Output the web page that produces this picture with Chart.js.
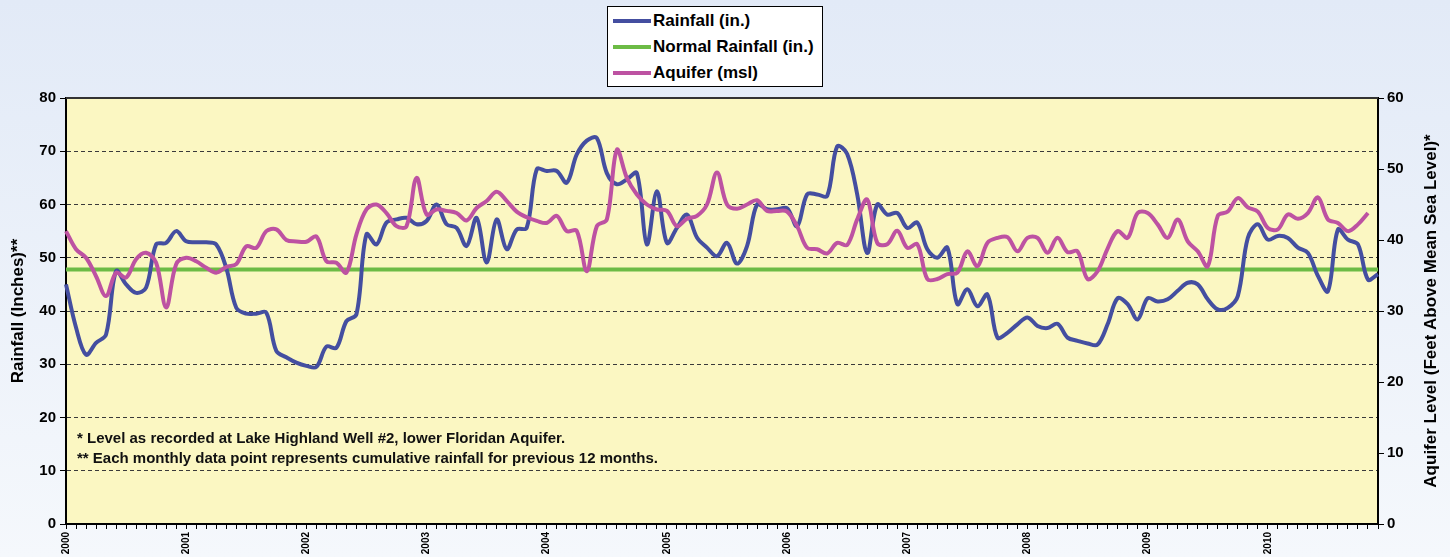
<!DOCTYPE html>
<html>
<head>
<meta charset="utf-8">
<script src="https://cdn.jsdelivr.net/npm/chart.js@4.4.1/dist/chart.umd.min.js"></script>
<style>
    html, body {
        margin: 0;
        padding: 0;
    }

    body {
        width: 1450px;
        height: 557px;
        position: relative;
        overflow: hidden;
        background: linear-gradient(#e2eaf7, #f5f8fc);
        font-family: "Liberation Sans", Arial, sans-serif;
    }

    #wrap {
        position: absolute;
        left: 0;
        top: 0;
        width: 1450px;
        height: 557px;
    }

    #legend {
        position: absolute;
        left: 607px;
        top: 6px;
        width: 214px;
        height: 78px;
        padding-top: 1px;
        background: #ffffff;
        border: 1px solid #000000;
    }

    .legend-row {
        height: 26px;
        display: flex;
        align-items: center;
    }

    .legend-line {
        width: 38px;
        height: 4px;
        margin-left: 5px;
        margin-right: 2px;
    }

    .legend-text {
        font-weight: bold;
        font-size: 17px;
        color: #000000;
        white-space: nowrap;
    }
</style>
</head>
<body>
<div id="wrap">
    <canvas id="rainChart" width="1450" height="557"></canvas>
</div>
<div id="legend"></div>

<script>
// ================= DATA =================

const years = ["2000", "2001", "2002", "2003", "2004", "2005",
    "2006", "2007", "2008", "2009", "2010"];

const monthNames = ["Jan", "Feb", "Mar", "Apr", "May", "Jun",
    "Jul", "Aug", "Sep", "Oct", "Nov", "Dec"];

// Cumulative rainfall for previous 12 months (inches)
const rainfall = [
    45, 36.9, 31.8, 34, 35.6, 47.5, 45, 43.4, 44.4, 52.5, 52.8, 55,
    53.1, 52.9, 52.9, 52.5, 48.1, 40.6, 39.5, 39.5, 39.7, 32.5, 31.3, 30.3,
    29.7, 29.5, 33.3, 33.1, 38.1, 39.4, 54.4, 52.5, 56.6, 57.2, 57.5, 56.3,
    56.9, 60, 56.3, 55.6, 52.2, 57.5, 49.1, 57.2, 51.6, 55.3, 55.6, 66.6,
    66.3, 66.3, 64.1, 69.4, 72, 72.5, 65.9, 63.8, 64.7, 65.9, 52.5, 62.5,
    52.8, 55.6, 58.1, 53.8, 51.9, 50.3, 52.8, 48.9, 52.2, 60, 59.1, 59.1,
    59.3, 55.9, 61.9, 61.9, 61.6, 70.9, 69.5, 61.9, 50.9, 60, 58.1, 58.4,
    55.6, 56.6, 51.6, 50, 51.9, 41.3, 44.1, 40.9, 43.1, 35, 35.9, 37.5,
    38.8, 37.2, 36.8, 37.6, 35, 34.4, 33.9, 33.7, 37.5, 42.4, 41.3, 38.4,
    42.4, 41.8, 42.2, 43.8, 45.3, 45, 42.2, 40.3, 40.6, 42.8, 53.7, 56.3,
    53.4, 54.1, 53.7, 51.9, 50.9, 46.6, 43.7, 55.3, 53.4, 52.5, 45.9, 46.9
];

// Aquifer level (feet above mean sea level)
const aquifer = [
    41.25, 38.7, 37.5, 34.9, 32.1, 35.4, 34.7, 37.3, 38.2, 36.8, 30.5, 36.6,
    37.5, 37, 36.1, 35.4, 36.2, 36.6, 39.1, 38.9, 41.25, 41.5, 40, 39.8,
    39.75, 40.5, 37, 36.8, 35.4, 40.8, 44.3, 45, 43.8, 41.95, 41.95, 48.75,
    43.6, 44.3, 44.1, 43.8, 42.75, 44.5, 45.5, 46.8, 45.5, 44, 43.2, 42.7,
    42.4, 43.4, 41.25, 41.3, 35.6, 41.95, 42.9, 52.7, 48.75, 46.4, 45, 44.3,
    44.1, 41.95, 43, 43.4, 45, 49.5, 45, 44.4, 45, 45.6, 44.1, 44.1,
    44, 41.95, 38.9, 38.7, 38.1, 39.6, 39.3, 42.9, 45.7, 39.6, 39.4, 41.3,
    38.9, 39.4, 34.5, 34.5, 35.2, 35.4, 38.4, 36.3, 39.6, 40.3, 40.4, 38.4,
    40.3, 40.3, 38.2, 40.3, 38.3, 38.4, 34.5, 35.6, 38.8, 41.25, 40.3, 43.8,
    43.8, 42.2, 40.3, 42.9, 39.8, 38.4, 36.3, 43.4, 44, 45.9, 44.6, 44,
    41.7, 41.5, 43.6, 43, 43.8, 46, 42.9, 42.4, 41.25, 42.2, 43.8, null
];

// Normal annual rainfall (inches)
const normalRainfall = 47.8;

const footnotes = [
    "* Level as recorded at Lake Highland Well #2, lower Floridan Aquifer.",
    "** Each monthly data point represents cumulative rainfall for previous 12 months."
];

const rightTitle = "Aquifer Level (Feet Above Mean Sea Level)*";


// ================= HELPERS =================

const monthLabels =
    years.flatMap(year =>
        monthNames.map(month => month + " " + year)
    );

const tickFont = {
    family: "'Liberation Sans', Arial, sans-serif",
    size: 15,
    weight: "bold"
};

const titleFont = {
    family: "'Liberation Sans', Arial, sans-serif",
    size: 17,
    weight: "bold"
};


// ================= PLOT BACKGROUND + FOOTNOTES =================

const plotDecor = {

    id: "plotDecor",

    beforeDraw(chart) {

        const { ctx, chartArea } = chart;

        ctx.save();

        // Yellow plot area
        ctx.fillStyle = "#fbf7c2";
        ctx.fillRect(
            chartArea.left,
            chartArea.top,
            chartArea.right - chartArea.left,
            chartArea.bottom - chartArea.top
        );

        ctx.restore();
    },

    afterDatasetsDraw(chart) {

        const { ctx, chartArea } = chart;

        ctx.save();

        // Top frame line
        ctx.strokeStyle = "#333333";
        ctx.lineWidth = 2;
        ctx.beginPath();
        ctx.moveTo(chartArea.left, chartArea.top);
        ctx.lineTo(chartArea.right, chartArea.top);
        ctx.stroke();

        // Footnotes
        ctx.fillStyle = "#111111";
        ctx.font = "bold 15px 'Liberation Sans', Arial, sans-serif";
        ctx.textAlign = "left";
        ctx.textBaseline = "alphabetic";

        ctx.fillText(footnotes[0], chartArea.left + 11, 443);
        ctx.fillText(footnotes[1], chartArea.left + 11, 463);

        ctx.restore();
    },

    afterDraw(chart) {

        const { ctx, chartArea } = chart;

        // Right axis title, reading bottom to top
        ctx.save();
        ctx.translate(1431, (chartArea.top + chartArea.bottom) / 2);
        ctx.rotate(-Math.PI / 2);
        ctx.fillStyle = "#000000";
        ctx.font = "bold 17px 'Liberation Sans', Arial, sans-serif";
        ctx.textAlign = "center";
        ctx.textBaseline = "middle";
        ctx.fillText(rightTitle, 0, 0);
        ctx.restore();
    }
};


// ================= CHART =================

const rainChart = new Chart(
    document.getElementById("rainChart"),
    {
        type: "line",

        data: {
            labels: monthLabels,

            datasets: [
                {
                    label: "Rainfall (in.)",
                    data: rainfall,
                    yAxisID: "y",
                    borderColor: "#444ea0",
                    borderWidth: 4,
                    tension: 0.35,
                    pointRadius: 0,
                    order: 1
                },
                {
                    label: "Normal Rainfall (in.)",
                    data: monthLabels.map(() => normalRainfall),
                    yAxisID: "y",
                    borderColor: "#6cbb45",
                    borderWidth: 4,
                    pointRadius: 0,
                    order: 2
                },
                {
                    label: "Aquifer (msl)",
                    data: aquifer,
                    yAxisID: "y1",
                    borderColor: "#bd52a2",
                    borderWidth: 4,
                    tension: 0.35,
                    pointRadius: 0,
                    order: 0
                }
            ]
        },

        options: {
            responsive: false,
            animation: false,

            layout: {
                padding: {
                    top: 98,
                    left: 0,
                    right: 0,
                    bottom: 0
                }
            },

            plugins: {
                legend: {
                    display: false
                },
                tooltip: {
                    enabled: false
                }
            },

            scales: {
                x: {
                    afterFit(scale) {
                        scale.height = 33;
                    },
                    grid: {
                        drawOnChartArea: false,
                        tickLength: 5,
                        tickColor: "#000000",
                        tickWidth: 1
                    },
                    border: {
                        color: "#000000",
                        width: 2
                    },
                    ticks: {
                        autoSkip: false,
                        minRotation: 90,
                        maxRotation: 90,
                        padding: 3,
                        color: "#000000",
                        font: {
                            family: "'Liberation Sans', Arial, sans-serif",
                            size: 10,
                            weight: "bold"
                        },
                        callback: (value, index) =>
                            index % 12 === 0 ? years[index / 12] : ""
                    }
                },

                y: {
                    position: "left",
                    min: 0,
                    max: 80,
                    afterFit(scale) {
                        scale.width = 66;
                    },
                    title: {
                        display: true,
                        text: "Rainfall (Inches)**",
                        color: "#000000",
                        font: titleFont,
                        padding: { top: 8, bottom: 0 }
                    },
                    grid: {
                        color: context =>
                            context.tick && (context.tick.value === 0 || context.tick.value === 80)
                                ? "rgba(0,0,0,0)"
                                : "#3a3a3a",
                        lineWidth: 1,
                        tickLength: 6,
                        tickColor: "#000000"
                    },
                    border: {
                        color: "#000000",
                        width: 2,
                        dash: [4, 3]
                    },
                    ticks: {
                        stepSize: 10,
                        padding: 4,
                        color: "#000000",
                        font: tickFont
                    }
                },

                y1: {
                    position: "right",
                    min: 0,
                    max: 60,
                    afterFit(scale) {
                        scale.width = 72;
                    },
                    grid: {
                        drawOnChartArea: false,
                        tickLength: 6,
                        tickColor: "#000000"
                    },
                    border: {
                        color: "#000000",
                        width: 2
                    },
                    ticks: {
                        stepSize: 10,
                        padding: 3,
                        color: "#000000",
                        font: tickFont
                    }
                }
            }
        },

        plugins: [
            plotDecor
        ]
    }
);


// ================= HTML LEGEND =================

const legendBox = document.getElementById("legend");

rainChart.data.datasets.forEach(dataset => {

    const row = document.createElement("div");
    row.className = "legend-row";

    const line = document.createElement("span");
    line.className = "legend-line";
    line.style.background = dataset.borderColor;

    const text = document.createElement("span");
    text.className = "legend-text";
    text.textContent = dataset.label;

    row.appendChild(line);
    row.appendChild(text);
    legendBox.appendChild(row);
});
</script>
</body>
</html>
